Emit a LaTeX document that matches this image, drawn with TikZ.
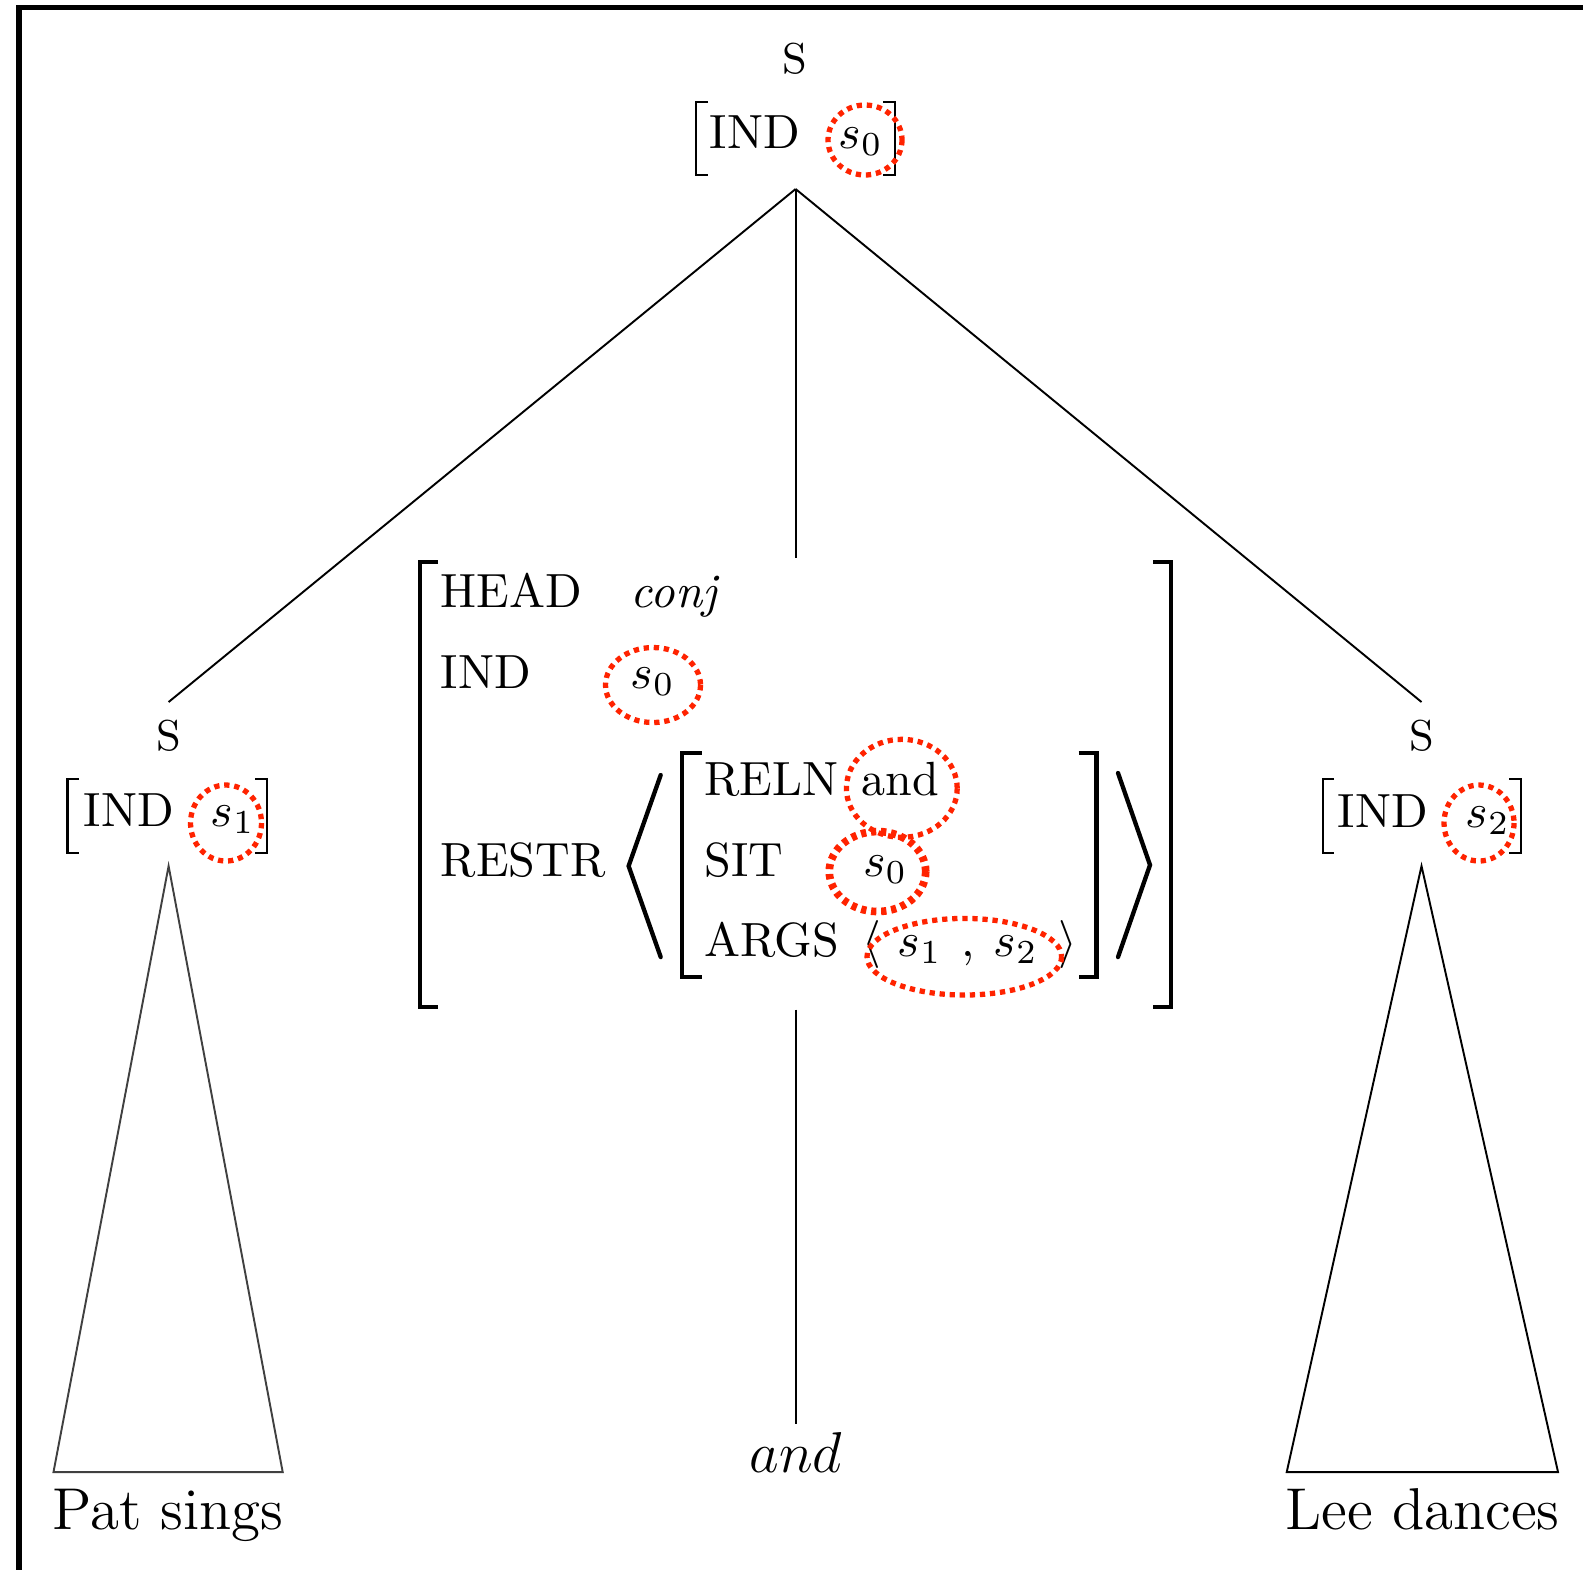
\documentclass[tikz,border=0pt]{standalone}
\usepackage{amsmath}

\definecolor{tagred}{RGB}{255,35,0}
\tikzset{every picture/.style={line width=0.4pt}}
\tikzset{
  txt/.style={anchor=base west,inner sep=0pt},
  ctxt/.style={anchor=base,inner sep=0pt},
  tag/.style={draw=tagred,line width=1.1pt,dash pattern={on 1.1pt off 1pt}},
  thinbr/.style={line width=0.5pt},
  thickbr/.style={line width=1pt},
  angbr/.style={line width=0.9pt,line cap=round,line join=miter},
  edge/.style={line width=0.4pt},
  leaf/.style={ctxt,font=\fontsize{12.3}{15}\selectfont}
}

\begin{document}
\begin{tikzpicture}[x=0.2083pt,y=0.2083pt,yscale=-1,xscale=1]
\useasboundingbox (0,0) rectangle (1583,1569);

%Shape: Frame
\draw [line width=1.1pt] (19,7.5) rectangle (1650,1650);

%% root node
% Text Node
\node [ctxt,font=\small] (rootS) at (795,73) {S};
\node [txt] (rootind) at (709,148) {IND};
\node [txt] (rootval) at (838,148) {$s_0$};
%Shape: Brackets
\draw [thinbr] (708,102) -- (696,102) -- (696,175) -- (708,175) ;
\draw [thinbr] (883,102) -- (895,102) -- (895,175) -- (883,175) ;
%Shape: Ellipse
\draw [tag] (865,140) ellipse [x radius=37,y radius=35] ;

%% left daughter
\node [ctxt,font=\small] (lS) at (168.5,750) {S};
\node [txt] (lind) at (83,826) {IND};
\node [txt] (lval) at (210,826) {$s_1$};
\draw [thinbr] (79,779) -- (67.5,779) -- (67.5,853) -- (79,853) ;
\draw [thinbr] (255,779) -- (266.7,779) -- (266.7,853) -- (255,853) ;
\draw [tag] (226,823) ellipse [x radius=35.5,y radius=38] ;

%% right daughter
\node [ctxt,font=\small] (rS) at (1422,750) {S};
\node [txt] (rind) at (1337,827) {IND};
\node [txt] (rval) at (1465,827) {$s_2$};
\draw [thinbr] (1334,779) -- (1322.7,779) -- (1322.7,853) -- (1334,853) ;
\draw [thinbr] (1509,779) -- (1521,779) -- (1521,853) -- (1509,853) ;
\draw [tag] (1479,823) ellipse [x radius=35,y radius=38] ;

%% conjunction entry
\node [txt] (head) at (440,607) {HEAD};
\node [txt] (headval) at (630,607) {\itshape conj};
\node [txt] (cind) at (440,688) {IND};
\node [txt] (cindval) at (630,688) {$s_0$};
\node [txt] (restr) at (440,876) {RESTR};
\node [txt] (reln) at (703.6,795) {RELN};
\node [txt] (relnval) at (860.7,795) {and};
\node [txt] (sit) at (703.6,876) {SIT};
\node [txt] (sitval) at (862.5,876) {$s_0$};
\node [txt] (args) at (703.6,956.7) {ARGS};
\node [txt] (argl) at (862,956.7) {$\langle$};
\node [txt] (arga) at (897,956.7) {$s_1$};
\node [txt] (argc) at (961,956.7) {,};
\node [txt] (argb) at (993,956.7) {$s_2$};
\node [txt] (argr) at (1058,956.7) {$\rangle$};

%Shape: outer brackets
\draw [thickbr] (438,562) -- (420,562) -- (420,1007) -- (438,1007) ;
\draw [thickbr] (1153,562) -- (1171,562) -- (1171,1007) -- (1153,1007) ;
%Shape: list brackets
\draw [angbr] (660.7,775) -- (628.6,866) -- (660.7,957) ;
\draw [angbr] (1118,773) -- (1150,865) -- (1118,957) ;
%Shape: inner brackets
\draw [thickbr] (701.8,753) -- (682,753) -- (682,977) -- (701.8,977) ;
\draw [thickbr] (1078.6,753) -- (1096.4,753) -- (1096.4,977) -- (1078.6,977) ;

%Shape: tags
\draw [tag] (653,685) ellipse [x radius=47.5,y radius=37.5] ;
\draw [tag] (901.8,788.3) ellipse [x radius=55.4,y radius=49] ;
\draw [tag,line width=1.6pt] (877.5,871.5) ellipse [x radius=48.2,y radius=40] ;
\draw [tag] (964.3,956.7) ellipse [x radius=97.3,y radius=38.3] ;

%% tree lines
\coordinate (rootb) at (795.6,189);
\coordinate (lt) at (168.6,702);
\coordinate (mt) at (795.6,558);
\coordinate (rt) at (1421.5,702);
\coordinate (mb) at (795.6,1009.6);
\coordinate (mw) at (795.6,1423.5);
\draw [edge] (rootb) -- (lt) ;
\draw [edge] (rootb) -- (mt) ;
\draw [edge] (rootb) -- (rt) ;
\draw [edge] (mb) -- (mw) ;

%Shape: Triangles
\coordinate (lapex) at (168.6,866);
\coordinate (rapex) at (1421.5,866);
\draw [edge,black!75] (lapex) -- (53.5,1472) -- (282.7,1472) -- cycle ;
\draw [edge] (rapex) -- (1286.7,1472) -- (1558,1472) -- cycle ;

% Text Node
\node [leaf] (wpat) at (168,1529) {Pat sings};
\node [ctxt,font=\large] (wand) at (796,1472) {$and$};
\node [leaf] (wlee) at (1422.5,1529) {Lee dances};

\end{tikzpicture}
\end{document}
